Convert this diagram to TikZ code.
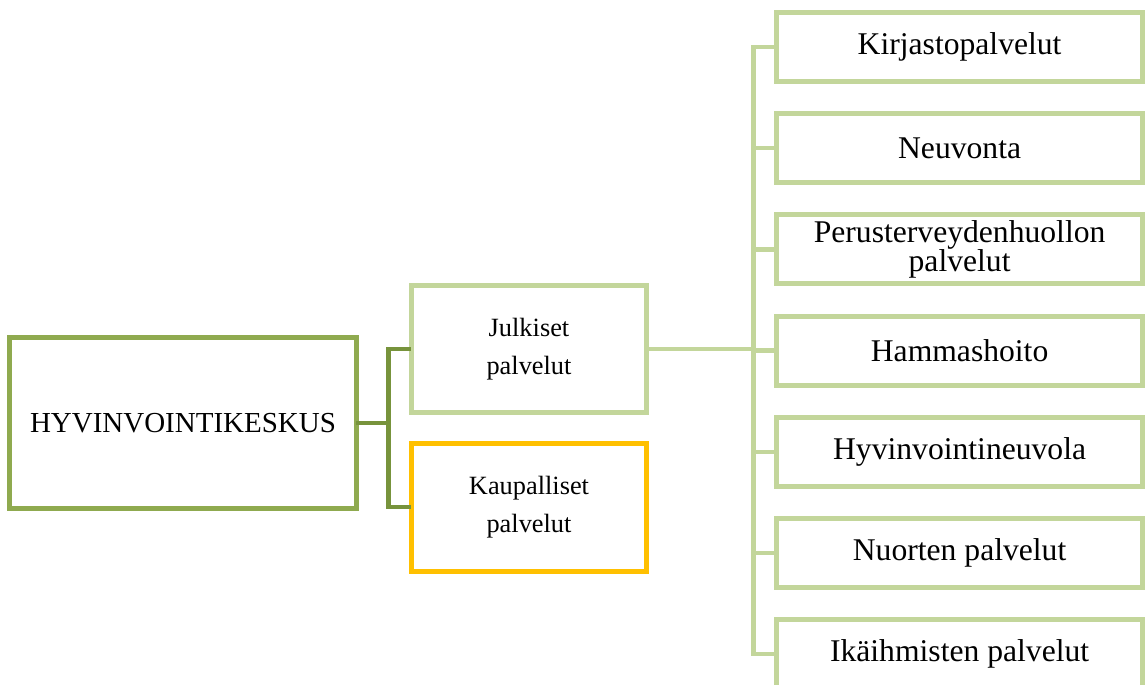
\documentclass[tikz,border=0pt]{standalone}
\usepackage{fontspec}
\setmainfont{Liberation Serif}
\usepackage{xcolor}

\definecolor{vihrea}{RGB}{143,170,79}
\definecolor{tummavihrea}{RGB}{119,147,60}
\definecolor{vaalea}{RGB}{195,214,155}
\definecolor{kulta}{RGB}{255,192,0}

\tikzset{
    laatikko/.style={draw, line width=0.1cm, fill=white, inner sep=0pt, align=center},
    palvelu/.style={laatikko, draw=vaalea, minimum width=4.7cm, minimum height=2.56cm,
        font=\fontsize{15}{22}\selectfont},
    alapalvelu/.style={laatikko, draw=vaalea, minimum width=7.32cm, minimum height=1.38cm,
        font=\fontsize{18}{17}\selectfont},
    yhteys/.style={line width=0.09cm, line cap=rect}
}

\begin{document}
\begin{tikzpicture}[x=0.02cm, y=-0.02cm]
    % Rajat
    \useasboundingbox (0,0) rectangle (1145,684);
    \clip (0,0) rectangle (1145,684);

    % Keskus
    \node[laatikko, draw=vihrea, minimum width=6.93cm, minimum height=3.43cm,
        font=\fontsize{16.5}{20}\selectfont] (keskus) at (183,423) {HYVINVOINTIKESKUS};

    % Palvelut
    \node[palvelu] (julkiset) at (529,349) {Julkiset\\palvelut};
    \node[palvelu, draw=kulta] (kaupalliset) at (529,507) {Kaupalliset\\palvelut};

    % Julkiset palvelut
    \foreach \nimi [count=\i] in {Kirjastopalvelut, Neuvonta, {Perusterveydenhuollon\\palvelut},
            Hammashoito, Hyvinvointineuvola, Nuorten palvelut, Ikäihmisten palvelut}
        \node[alapalvelu] (p\i) at (959.6, {47+101.2*(\i-1)}) {\nimi};

    % Yhteydet
    \coordinate (haara) at (388.3,423);
    \coordinate (runko) at (753.3,349);

    \draw[yhteys, tummavihrea] (keskus.east) -- (haara);
    \draw[yhteys, tummavihrea] (julkiset.west) -| (haara) |- (kaupalliset.west);

    \draw[yhteys, vaalea] (julkiset.east) -- (runko);
    \draw[yhteys, vaalea] (runko |- p1.west) -- (runko |- p7.west);
    \foreach \i in {1,...,7}
        \draw[yhteys, vaalea] (runko |- p\i.west) -- (p\i.west);
\end{tikzpicture}
\end{document}
